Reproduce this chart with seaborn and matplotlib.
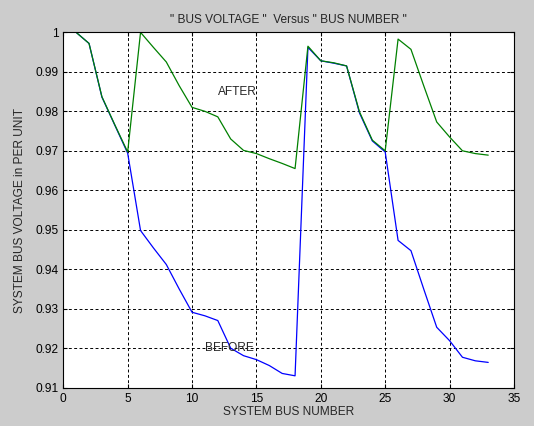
import numpy as np
import pandas as pd
import matplotlib
matplotlib.use("Agg")
import matplotlib.pyplot as plt
import seaborn as sns

# bus numbers 1..33
bus = list(range(1, 34))

# voltage profile before compensation (p.u.)
v_before = [1.0, 0.9972, 0.9836, 0.9765, 0.9694, 0.9498, 0.9454, 0.9412, 0.9350, 0.9291,
            0.9282, 0.9270, 0.9200, 0.9181, 0.9171, 0.9156, 0.9136, 0.9130, 0.9962, 0.9928,
            0.9922, 0.9915, 0.9796, 0.9725, 0.9697, 0.9473, 0.9447, 0.9349, 0.9253, 0.9219,
            0.9177, 0.9168, 0.9164]

# voltage profile after compensation (p.u.)
v_after = [1.0, 0.9972, 0.9837, 0.9766, 0.9697, 1.0, 0.9962, 0.9925, 0.9865, 0.9810,
           0.9800, 0.9786, 0.9730, 0.9701, 0.9693, 0.9680, 0.9668, 0.9655, 0.9965, 0.9928,
           0.9923, 0.9915, 0.9799, 0.9727, 0.9700, 0.9983, 0.9957, 0.9864, 0.9773, 0.9735,
           0.9700, 0.9693, 0.9689]

df = pd.DataFrame({
    "bus": bus * 2,
    "voltage": v_before + v_after,
    "case": ["before"] * len(bus) + ["after"] * len(bus),
})

sns.set_style("ticks")
plt.rcParams["font.family"] = ["Liberation Sans", "DejaVu Sans"]
fs = 8.6

fig = plt.figure(figsize=(5.34, 4.26), dpi=100, facecolor="#cccccc")
ax = fig.add_axes([0.1185, 0.09, 0.844, 0.834])
ax.set_facecolor("white")

sns.lineplot(data=df, x="bus", y="voltage", hue="case",
             palette={"before": "#0000ff", "after": "#008000"},
             linewidth=0.9, legend=False, ax=ax, sort=False, estimator=None)

ax.set_xlim(0, 35)
ax.set_ylim(0.91, 1.0)
ax.set_xticks(np.arange(0, 36, 5))
ax.set_yticks(np.round(np.arange(0.91, 1.0001, 0.01), 2))
ax.set_yticklabels(["0.91", "0.92", "0.93", "0.94", "0.95", "0.96", "0.97", "0.98", "0.99", "1"])

ax.grid(True, color="black", linestyle=(0, (3, 2.5)), linewidth=0.7)
ax.tick_params(direction="in", top=True, right=True, length=3, labelsize=fs, colors="black")
for s in ax.spines.values():
    s.set_visible(True)
    s.set_color("black")
    s.set_linewidth(0.8)

ax.text(12, 0.985, "AFTER", fontsize=fs, va="center", ha="left")
ax.text(11, 0.92, "BEFORE", fontsize=fs, va="center", ha="left")

ax.set_title('" BUS VOLTAGE "  Versus " BUS NUMBER "', fontsize=fs, pad=7)
ax.set_xlabel("SYSTEM BUS NUMBER", fontsize=fs, labelpad=1)
ax.set_ylabel("SYSTEM BUS VOLTAGE in PER UNIT", fontsize=fs, labelpad=7)

fig.savefig("out.png", dpi=100, facecolor=fig.get_facecolor())
